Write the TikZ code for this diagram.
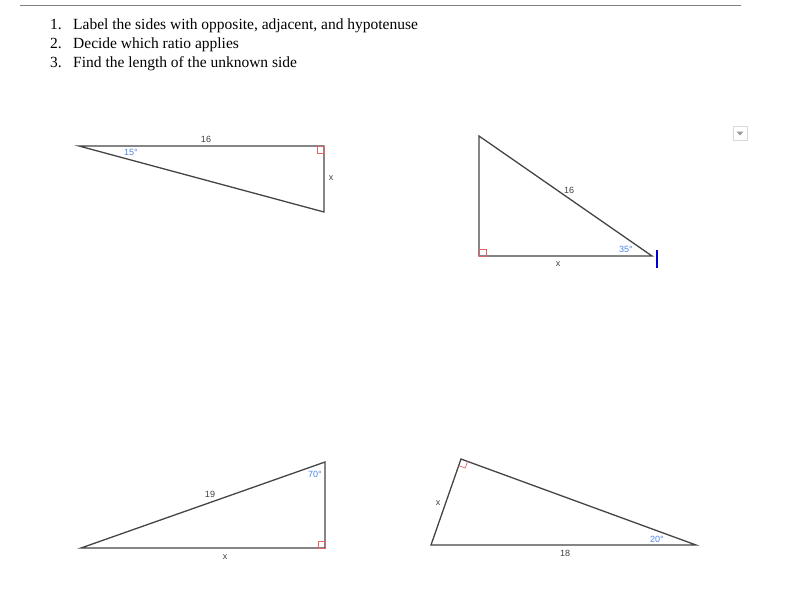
\documentclass[tikz,border=0pt]{standalone}
\usepackage{fontspec}
\setmainfont{Liberation Serif}
\newfontfamily\labelfont{Liberation Sans}
\usetikzlibrary{calc}
\definecolor{anglblue}{HTML}{4A86E8}
\definecolor{sqred}{HTML}{E06666}
\definecolor{edgegray}{HTML}{444444}
\tikzset{
    tri/.style={edgegray, line width=1.3},
    rsq/.style={sqred, line width=0.7},
    sidelbl/.style={font=\labelfont\fontsize{9}{10}\selectfont, text=black!75, inner sep=0},
    anglbl/.style={font=\labelfont\fontsize{9}{10}\selectfont, text=anglblue, inner sep=0},
    item/.style={font=\fontsize{15.5}{17}\selectfont, anchor=base west, inner sep=0}
}
\begin{document}
\begin{tikzpicture}[x=1pt, y=-1pt]
    \useasboundingbox (0,0) rectangle (789,606);

    % header rule
    \coordinate (rl) at (20,5);
    \coordinate (rr) at (741,5);
    \draw [gray, line width=0.8] (rl) -- (rr);

    % list
    \node[item] (n1) at (50,29) {1.};
    \node[item] (t1) at (73,29) {Label the sides with opposite, adjacent, and hypotenuse};
    \node[item] (n2) at (50,48) {2.};
    \node[item] (t2) at (73,48) {Decide which ratio applies};
    \node[item] (n3) at (50,67) {3.};
    \node[item] (t3) at (73,67) {Find the length of the unknown side};

    % triangle 1
    \coordinate (a1) at (79,146);
    \coordinate (b1) at (324,146);
    \coordinate (c1) at (324,212);
    \draw [tri] (a1) -- (b1) -- (c1) -- cycle;
    \draw [rsq] (317,146) rectangle (324,153);
    \node [sidelbl] (s1) at (206,139) {16};
    \node [sidelbl] (x1) at (331,178) {x};
    \node [anglbl] (g1) at (131,152) {15°};

    % triangle 2
    \coordinate (a2) at (479,136);
    \coordinate (b2) at (479,256);
    \coordinate (c2) at (652,256);
    \draw [tri] (a2) -- (b2) -- (c2) -- cycle;
    \draw [rsq] (479,249) rectangle (486,256);
    \node [sidelbl] (s2) at (569,190) {16};
    \node [sidelbl] (x2) at (558,264) {x};
    \node [anglbl] (g2) at (626,249) {35°};
    \draw [blue!80!black, line width=1.6] (657,250) -- (657,268);

    % triangle 3
    \coordinate (a3) at (81,548);
    \coordinate (b3) at (325,462);
    \coordinate (c3) at (325,548);
    \draw [tri] (a3) -- (b3) -- (c3) -- cycle;
    \draw [rsq] (318,541) rectangle (325,548);
    \node [sidelbl] (s3) at (210,494) {19};
    \node [sidelbl] (x3) at (225,557) {x};
    \node [anglbl] (g3) at (315,474) {70°};

    % triangle 4
    \coordinate (a4) at (431,545);
    \coordinate (b4) at (461,459);
    \coordinate (c4) at (696,545);
    \draw [tri] (a4) -- (b4) -- (c4) -- cycle;
    \coordinate (q1) at ($(b4)!7pt!(a4)$);
    \coordinate (q2) at ($(b4)!7pt!(c4)$);
    \draw [rsq] (q1) -- ($(q1)+(q2)-(b4)$) -- (q2);
    \node [sidelbl] (s4) at (565,553) {18};
    \node [sidelbl] (x4) at (438,503) {x};
    \node [anglbl] (g4) at (657,539) {20°};

    % dropdown
    \draw [black!15, line width=0.8] (733,126) rectangle (747,140);
    \fill [black!40] (736.5,131.5) -- (743.5,131.5) -- (740,135.5) -- cycle;
\end{tikzpicture}
\end{document}
